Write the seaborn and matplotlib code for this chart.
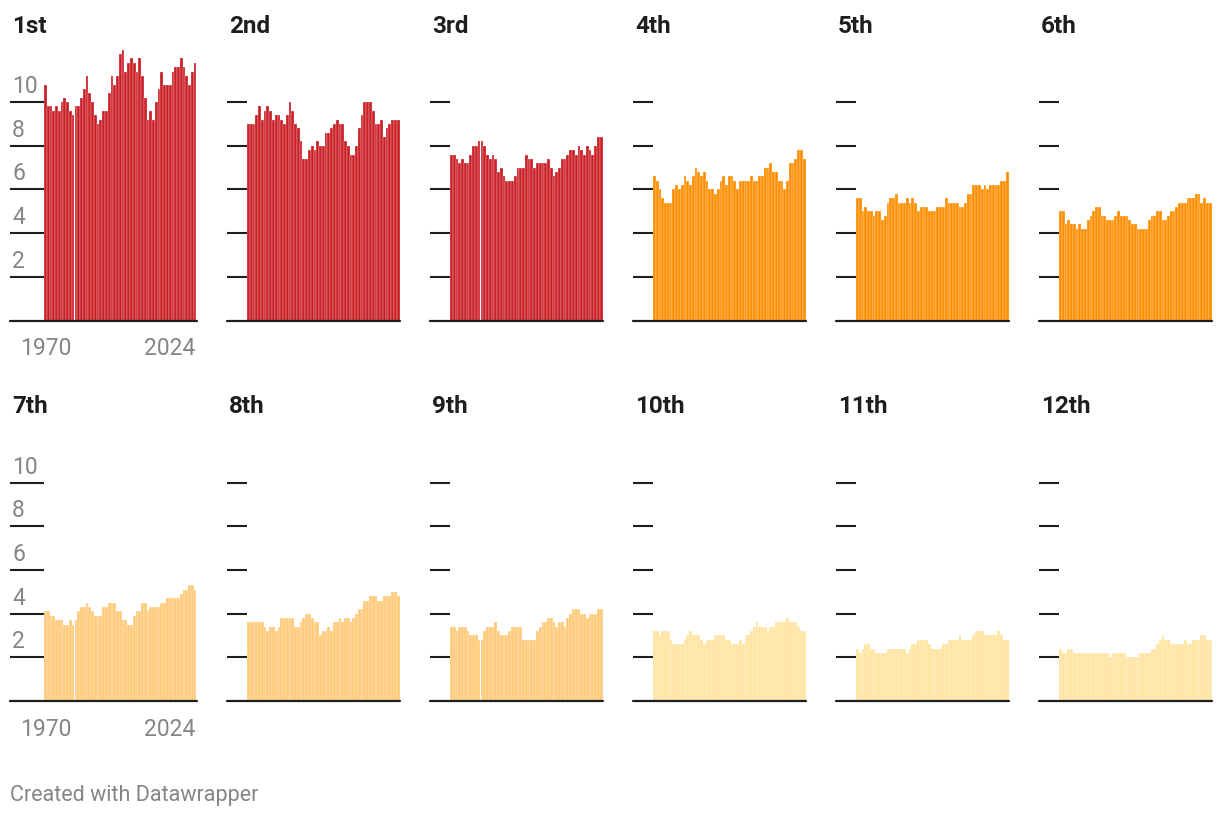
import matplotlib.pyplot as plt
import seaborn as sns

# ---------------- data ----------------
years = list(range(1970, 2025))
titles = ["1st", "2nd", "3rd", "4th", "5th", "6th",
          "7th", "8th", "9th", "10th", "11th", "12th"]
y_ticks = [2, 4, 6, 8, 10]
x_tick_years = [1970, 2024]

rank_1 = [10.8, 9.8, 9.8, 9.6, 9.8, 9.6, 10.0, 10.2, 10.0, 9.6,
          9.4, 9.8, 9.8, 10.2, 10.6, 11.2, 10.4, 10.0, 9.4, 9.0,
          9.2, 9.6, 9.6, 10.4, 11.2, 10.8, 11.2, 12.2, 12.4, 11.4,
          11.8, 12.0, 11.8, 11.4, 12.0, 11.2, 10.2, 9.2, 9.6, 9.2,
          10.0, 10.6, 11.4, 10.8, 10.8, 10.8, 11.4, 11.6, 11.6, 12.0,
          11.6, 11.2, 10.8, 11.4, 11.8]
rank_2 = [9.0, 9.0, 9.0, 9.4, 9.8, 9.2, 9.6, 9.8, 9.6, 9.2,
          9.4, 9.4, 9.2, 9.0, 9.4, 10.0, 9.6, 9.0, 8.8, 8.2,
          7.4, 7.4, 7.8, 8.0, 7.8, 8.2, 8.0, 8.0, 8.6, 8.6,
          8.8, 9.0, 9.2, 9.0, 9.0, 8.2, 8.0, 7.6, 7.6, 8.0,
          8.8, 9.4, 10.0, 10.0, 10.0, 9.6, 9.0, 9.0, 9.2, 8.4,
          8.8, 9.0, 9.2, 9.2, 9.2]
rank_3 = [7.6, 7.6, 7.4, 7.2, 7.4, 7.2, 7.2, 7.6, 8.0, 8.0,
          8.2, 8.2, 8.0, 7.6, 7.4, 7.6, 7.4, 6.8, 7.0, 6.6,
          6.4, 6.4, 6.4, 6.6, 7.0, 7.0, 7.0, 7.6, 7.4, 7.4,
          7.0, 7.2, 7.2, 7.2, 7.2, 7.4, 7.0, 6.6, 6.8, 7.0,
          7.4, 7.4, 7.6, 7.8, 7.8, 7.6, 8.0, 7.8, 7.6, 8.0,
          7.8, 7.6, 8.0, 8.4, 8.4]
rank_4 = [6.6, 6.4, 6.0, 5.6, 5.4, 5.4, 5.4, 6.0, 6.2, 6.0,
          6.2, 6.6, 6.4, 6.2, 6.6, 7.0, 6.8, 6.6, 6.8, 6.4,
          6.0, 6.0, 5.8, 6.0, 6.4, 6.6, 6.2, 6.6, 6.6, 6.4,
          6.0, 6.4, 6.4, 6.4, 6.4, 6.6, 6.4, 6.4, 6.6, 6.6,
          7.0, 7.0, 7.2, 6.8, 6.8, 6.4, 6.4, 6.0, 6.4, 7.2,
          7.2, 7.4, 7.8, 7.8, 7.4]
rank_5 = [5.6, 5.6, 5.0, 5.2, 5.0, 5.0, 4.8, 5.0, 5.0, 4.6,
          4.8, 5.4, 5.6, 5.6, 5.8, 5.4, 5.4, 5.4, 5.6, 5.4,
          5.6, 5.4, 5.0, 5.2, 5.2, 5.2, 5.0, 5.0, 5.0, 5.2,
          5.2, 5.2, 5.6, 5.4, 5.4, 5.4, 5.4, 5.2, 5.2, 5.4,
          5.8, 5.8, 6.2, 6.2, 6.2, 6.0, 6.2, 6.0, 6.2, 6.2,
          6.2, 6.2, 6.4, 6.4, 6.8]
rank_6 = [5.0, 5.0, 4.4, 4.6, 4.4, 4.4, 4.2, 4.4, 4.2, 4.2,
          4.6, 4.8, 5.0, 5.2, 5.2, 4.8, 4.8, 4.6, 4.6, 4.6,
          4.8, 5.0, 4.8, 4.8, 4.8, 4.6, 4.4, 4.4, 4.2, 4.2,
          4.2, 4.2, 4.6, 4.8, 4.8, 5.0, 5.0, 4.6, 4.6, 4.8,
          5.0, 5.0, 5.2, 5.4, 5.4, 5.4, 5.6, 5.6, 5.6, 5.8,
          5.8, 5.4, 5.6, 5.4, 5.4]
rank_7 = [4.1, 4.1, 3.9, 3.9, 3.7, 3.7, 3.7, 3.5, 3.5, 3.7,
          3.5, 3.7, 4.1, 4.3, 4.3, 4.5, 4.3, 4.1, 3.9, 3.9,
          3.9, 4.3, 4.3, 4.5, 4.5, 4.5, 4.1, 4.1, 3.7, 3.7,
          3.5, 3.5, 3.9, 4.1, 4.1, 4.5, 4.5, 4.1, 4.3, 4.3,
          4.3, 4.3, 4.5, 4.5, 4.7, 4.7, 4.7, 4.7, 4.7, 4.9,
          5.1, 5.1, 5.3, 5.3, 5.1]
rank_8 = [3.6, 3.6, 3.6, 3.6, 3.6, 3.6, 3.4, 3.2, 3.4, 3.4,
          3.2, 3.4, 3.8, 3.8, 3.8, 3.8, 3.8, 3.4, 3.4, 3.6,
          3.8, 4.0, 4.0, 3.8, 3.6, 3.6, 3.0, 3.2, 3.2, 3.4,
          3.2, 3.6, 3.6, 3.8, 3.6, 3.8, 3.8, 3.6, 3.8, 4.0,
          4.2, 4.2, 4.6, 4.6, 4.8, 4.8, 4.8, 4.6, 4.6, 4.8,
          4.8, 4.8, 5.0, 5.0, 4.8]
rank_9 = [3.4, 3.4, 3.2, 3.4, 3.4, 3.4, 3.2, 3.0, 3.0, 3.0,
          2.8, 2.8, 3.2, 3.4, 3.4, 3.4, 3.6, 3.2, 3.0, 3.0,
          3.0, 3.2, 3.4, 3.4, 3.4, 3.4, 2.8, 2.8, 2.8, 2.8,
          2.8, 3.2, 3.4, 3.6, 3.6, 3.8, 3.8, 3.6, 3.4, 3.6,
          3.6, 3.4, 3.8, 4.0, 4.2, 4.2, 4.2, 4.0, 4.0, 3.8,
          4.0, 4.0, 4.0, 4.2, 4.2]
rank_10 = [3.2, 3.2, 3.0, 3.2, 3.2, 3.2, 2.8, 2.6, 2.6, 2.6,
           2.6, 2.8, 3.0, 3.2, 3.0, 3.0, 3.0, 2.8, 2.6, 2.8,
           2.8, 2.8, 3.0, 3.0, 3.0, 3.0, 2.8, 2.8, 2.6, 2.6,
           2.6, 2.8, 2.6, 3.0, 3.0, 3.2, 3.4, 3.6, 3.4, 3.4,
           3.4, 3.2, 3.4, 3.4, 3.6, 3.6, 3.6, 3.6, 3.8, 3.6,
           3.6, 3.6, 3.4, 3.2, 3.2]
rank_11 = [2.4, 2.2, 2.4, 2.6, 2.6, 2.4, 2.4, 2.2, 2.2, 2.2,
           2.2, 2.4, 2.4, 2.4, 2.4, 2.4, 2.4, 2.4, 2.2, 2.4,
           2.6, 2.6, 2.8, 2.8, 2.8, 2.8, 2.6, 2.4, 2.4, 2.4,
           2.4, 2.6, 2.6, 2.8, 2.8, 2.8, 2.8, 3.0, 2.8, 2.8,
           2.8, 2.8, 3.0, 3.2, 3.2, 3.2, 3.0, 3.0, 3.0, 3.0,
           3.0, 3.2, 3.0, 2.8, 2.8]
rank_12 = [2.4, 2.2, 2.2, 2.4, 2.4, 2.2, 2.2, 2.2, 2.2, 2.2,
           2.2, 2.2, 2.2, 2.2, 2.2, 2.2, 2.2, 2.2, 2.0, 2.2,
           2.2, 2.2, 2.2, 2.2, 2.0, 2.0, 2.0, 2.0, 2.0, 2.2,
           2.2, 2.2, 2.2, 2.4, 2.4, 2.6, 2.8, 3.0, 2.8, 2.8,
           2.6, 2.6, 2.6, 2.6, 2.6, 2.8, 2.6, 2.6, 2.8, 2.8,
           2.8, 3.0, 3.0, 2.8, 2.8]

series = [rank_1, rank_2, rank_3, rank_4, rank_5, rank_6,
          rank_7, rank_8, rank_9, rank_10, rank_11, rank_12]
bar_colors = ["#c91f25"] * 3 + ["#fe8d00"] * 3 + ["#ffc978"] * 3 + ["#ffe39f"] * 3

# ---------------- style ----------------
sns.set_theme(style="white")
plt.rcParams["font.family"] = ["Roboto", "DejaVu Sans"]

W, H = 1220, 818
fig = plt.figure(figsize=(W / 100, H / 100), dpi=100)

ink = "#1e1e1e"
grey = "#858585"
px2pt = 0.72

plot_w = 152.5          # bar area width, px
plot_h = 273.0          # bar area height, px (0 .. 12.5)
baselines = [320.5, 701.0]

for i, (name, vals, col) in enumerate(zip(titles, series, bar_colors)):
    row, colno = divmod(i, 6)
    left_px = 44 + 203 * colno
    gap_px = 34 if colno == 0 else 20   # space for the little grid dashes
    base = baselines[row]
    ax = fig.add_axes([left_px / W, (H - base) / H, plot_w / W, plot_h / H])

    # bars touch, separated only by a faint light hairline
    sns.barplot(x=years, y=vals, color=col, saturation=1, width=1.0,
                linewidth=0.35, edgecolor=(1, 1, 1, 0.55), ax=ax)
    ax.set_xlim(-0.5, len(years) - 0.5)
    ax.set_ylim(0, 12.5)
    ax.set_xlabel("")
    ax.set_ylabel("")
    for s in ax.spines.values():
        s.set_visible(False)

    # grid dashes on the left
    ax.set_yticks(y_ticks)
    ax.set_yticklabels([])
    ax.tick_params(axis="y", left=True, length=gap_px * px2pt, width=1.5,
                   color=ink, direction="out", pad=0)

    # baseline, running under the dashes too
    ax.axhline(0, xmin=-gap_px / plot_w, xmax=1, color=ink, lw=1.6,
               clip_on=False, zorder=5)

    # title
    ax.annotate(name, xy=(-(gap_px - 2) / plot_w, 1), xycoords="axes fraction",
                xytext=(0, 10.5), textcoords="offset points",
                ha="left", va="baseline", fontsize=17.5, fontweight="bold",
                color=ink)

    if colno == 0:
        for v in y_ticks:
            ax.annotate(str(v), xy=(-(gap_px - 2) / plot_w, v),
                        xycoords=ax.get_yaxis_transform(),
                        xytext=(0, 6.5), textcoords="offset points",
                        ha="left", va="baseline", fontsize=16.5, color=grey)
        pos = [years.index(y) for y in x_tick_years]
        ax.set_xticks(pos)
        ax.set_xticklabels([str(y) for y in x_tick_years])
        ax.tick_params(axis="x", bottom=False, length=0, pad=12,
                       labelsize=16.5, labelcolor=grey)
        lbls = ax.get_xticklabels()
        lbls[-1].set_ha("right")
    else:
        ax.set_xticks([])

fig.text(10 / W, 1 - 796 / H, "Created with Datawrapper", ha="left",
         va="center", fontsize=15.5, color=grey)

fig.savefig("out.png", dpi=100)
